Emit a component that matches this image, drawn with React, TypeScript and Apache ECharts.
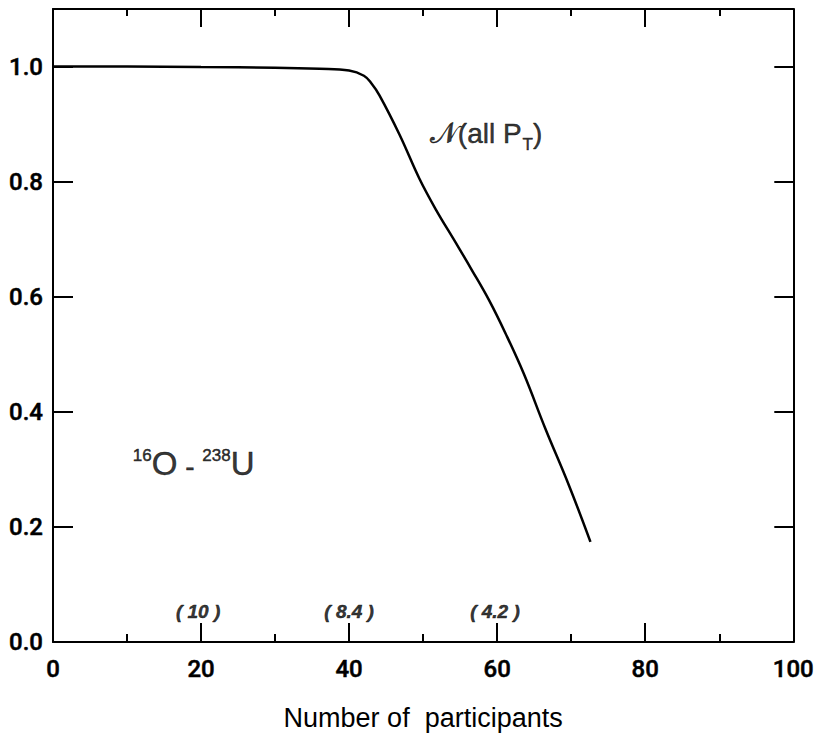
import React, { useEffect, useRef } from "react";
import * as echarts from "echarts";

// N(all pT) versus number of participants for 16O - 238U
const participants = [0, 10, 20, 30, 36, 40, 42, 43, 44.1, 46.8, 49.5, 51.7, 54.4, 56.6, 58.9, 61.1, 63.6, 66.5, 69.7, 72.6];
const fraction = [1.0, 1.0, 0.999, 0.998, 0.996, 0.993, 0.984, 0.971, 0.95, 0.882, 0.805, 0.752, 0.694, 0.646, 0.594, 0.537, 0.466, 0.371, 0.272, 0.174];

// bracketed values written along the bottom axis
const bracketX = [19.6, 40, 59.7];
const bracketY = [0.053, 0.053, 0.053];
const bracketText = ["( 10 )", "( 8.4 )", "( 4.2 )"];

// curve and system labels
const curveLabelPos = [58.5, 0.885];
const systemLabelPos = [19, 0.31];

const xMin = 0;
const xMax = 100;
const yMin = 0;
const yMax = 1.1;

const tickFont = "Roboto, 'Liberation Sans', sans-serif";
const textFont = "'Liberation Sans', Arial, sans-serif";

export default function App() {
  const ref = useRef<HTMLDivElement>(null);

  useEffect(() => {
    document.body.style.margin = "0";
    if (!ref.current) return;
    const chart = echarts.init(ref.current, null, { renderer: "svg" });

    const frameLine = { show: true, onZero: false, lineStyle: { color: "#000", width: 2 } };
    const ink = { color: "#000", textBorderColor: "#000", textBorderWidth: 0.5 };

    chart.setOption({
      animation: false,
      backgroundColor: "#fff",
      grid: { left: 53, right: 22, top: 9, bottom: 88, containLabel: false },
      xAxis: [
        {
          type: "value",
          min: xMin,
          max: xMax,
          interval: 20,
          position: "bottom",
          axisLine: frameLine,
          axisTick: { show: true, inside: true, length: 19, lineStyle: { color: "#000", width: 2 } },
          minorTick: { show: true, splitNumber: 2, length: 8, lineStyle: { color: "#000", width: 2 } },
          splitLine: { show: false },
          axisLabel: {
            ...ink,
            fontFamily: tickFont,
            fontSize: 24,
            fontWeight: 500,
            margin: 15,
            formatter: (v: number) => String(v),
          },
          name: "Number of  participants",
          nameLocation: "middle",
          nameGap: 62,
          nameTextStyle: { color: "#000", fontFamily: textFont, fontSize: 27 },
        },
        {
          type: "value",
          min: xMin,
          max: xMax,
          interval: 20,
          position: "top",
          axisLine: frameLine,
          axisTick: { show: true, inside: true, length: 18, lineStyle: { color: "#000", width: 2 } },
          minorTick: { show: true, splitNumber: 2, length: 7, lineStyle: { color: "#000", width: 2 } },
          splitLine: { show: false },
          axisLabel: { show: false },
        },
      ],
      yAxis: [
        {
          type: "value",
          min: yMin,
          max: yMax,
          interval: 0.2,
          position: "left",
          axisLine: frameLine,
          axisTick: { show: true, inside: true, length: 20, lineStyle: { color: "#000", width: 2 } },
          splitLine: { show: false },
          axisLabel: {
            ...ink,
            fontFamily: tickFont,
            fontSize: 24,
            fontWeight: 500,
            margin: 10,
            showMaxLabel: false,
            formatter: (v: number) => (v > 1.05 ? "" : v.toFixed(1)),
          },
        },
        {
          type: "value",
          min: yMin,
          max: yMax,
          interval: 0.2,
          position: "right",
          axisLine: frameLine,
          axisTick: { show: true, inside: true, length: 19, lineStyle: { color: "#000", width: 2 } },
          splitLine: { show: false },
          axisLabel: { show: false },
        },
      ],
      series: [
        {
          type: "line",
          xAxisIndex: 0,
          yAxisIndex: 0,
          data: participants.map((x, i) => [x, fraction[i]]),
          showSymbol: false,
          smooth: 0.4,
          lineStyle: { color: "#000", width: 2.5 },
          z: 3,
        },
        {
          type: "scatter",
          xAxisIndex: 0,
          yAxisIndex: 0,
          symbolSize: 0,
          silent: true,
          data: bracketX.map((x, i) => ({ value: [x, bracketY[i]], name: bracketText[i] })),
          label: {
            show: true,
            position: "inside",
            formatter: (p: any) => p.name,
            ...ink,
            fontFamily: textFont,
            fontStyle: "italic",
            fontWeight: "bold",
            fontSize: 19,
          },
        },
        {
          type: "scatter",
          xAxisIndex: 0,
          yAxisIndex: 0,
          symbolSize: 0,
          silent: true,
          data: [
            { value: curveLabelPos, name: "curve" },
            { value: systemLabelPos, name: "system" },
          ],
          label: {
            show: true,
            position: "inside",
            color: "#000",
            formatter: (p: any) =>
              p.name === "curve"
                ? "{n|𝒩}{m|(all P}{sub|T}{m|)}"
                : "{sup|16}{big|O}{m| - }{sup|238}{big|U}",
            rich: {
              n: { fontFamily: "'DejaVu Sans', 'DejaVu Serif', serif", fontSize: 29, ...ink, verticalAlign: "bottom" },
              m: { fontFamily: textFont, fontSize: 28, ...ink, verticalAlign: "bottom" },
              sub: { fontFamily: textFont, fontSize: 17, ...ink, verticalAlign: "bottom", padding: [0, 0, -6, 1] },
              sup: { fontFamily: textFont, fontSize: 17, ...ink, verticalAlign: "top" },
              big: { fontFamily: textFont, fontSize: 33, ...ink, verticalAlign: "bottom" },
            },
          },
        },
      ],
    });

    return () => chart.dispose();
  }, []);

  return <div ref={ref} style={{ width: 817, height: 736 }} />;
}
